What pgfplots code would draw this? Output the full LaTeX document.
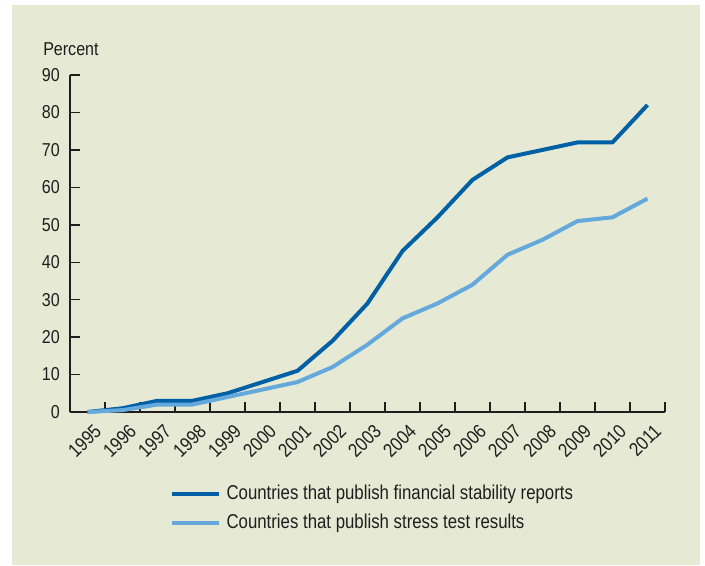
\documentclass[border=0pt]{standalone}
\usepackage{pgfplots}
\pgfplotsset{compat=1.18}
\usepackage{fontspec}
\setmainfont{Liberation Sans}[FakeStretch=0.86]
\newfontfamily\legendfont{Liberation Sans}[FakeStretch=0.84]
\definecolor{bg}{RGB}{230,234,212}
\definecolor{dblue}{RGB}{0,96,166}
\definecolor{lblue}{RGB}{100,168,220}
\definecolor{axc}{RGB}{30,30,30}
\begin{document}
\fontsize{14}{16}\selectfont
\begin{tikzpicture}
\useasboundingbox (-52.5pt,-114.75pt) rectangle (476.25pt,309pt);
\fill[bg] (-43.5pt,-114.75pt) rectangle (472.5pt,305.25pt);
\begin{axis}[
  at={(0pt,0pt)}, anchor=south west,
  scale only axis, width=446.25pt, height=252.75pt,
  xmin=-0.5, xmax=16.5, ymin=0, ymax=90,
  axis x line=bottom, axis y line=left,
  axis line style={-, line width=1.1pt, color=axc},
  ytick={0,10,20,30,40,50,60,70,80,90},
  xtick={-0.5,0.5,1.5,2.5,3.5,4.5,5.5,6.5,7.5,8.5,9.5,10.5,11.5,12.5,13.5,14.5,15.5,16.5},
  x tick label as interval,
  xticklabels={1995,1996,1997,1998,1999,2000,2001,2002,2003,2004,2005,2006,2007,2008,2009,2010,2011},
  tick style={line width=1.1pt, color=axc},
  tick align=inside, major tick length=7.5pt,
  /pgf/number format/assume math mode=true,
  ticklabel style={font=\fontsize{14}{16}\selectfont, text=axc},
  xticklabel style={font=\fontsize{14.5}{16}\selectfont},
  yticklabel style={anchor=east, inner sep=0pt, xshift=-7.5pt},
  xticklabel style={xshift=4pt, yshift=-8pt, rotate=45, anchor=north east, inner sep=0pt},
  clip=false,
  legend style={draw=none, fill=none, inner sep=0pt,
    at={(axis description cs:0.168,-0.2864)}, anchor=west,
    font=\legendfont\fontsize{15}{17}\selectfont, text=axc,
    nodes={inner sep=0pt, text height=10.5pt, text depth=3pt},
    row sep=8.25pt,
    /tikz/every odd column/.append style={column sep=4pt}},
  legend cell align=left,
  legend image code/.code={\draw[#1] (0pt,0pt) -- (35.25pt,0pt);},
]
\addplot[dblue, line width=3pt, line join=round] coordinates {
(0,0) (1,1) (2,3) (3,3) (4,5) (5,8) (6,11) (7,19) (8,29) (9,43) (10,52) (11,62) (12,68) (13,70) (14,72) (15,72) (16,82)};
\addlegendentry{Countries that publish financial stability reports}
\addplot[lblue, line width=3pt, line join=round] coordinates {
(0,0) (1,0.5) (2,2) (3,2) (4,4) (5,6) (6,8) (7,12) (8,18) (9,25) (10,29) (11,34) (12,42) (13,46) (14,51) (15,52) (16,57)};
\addlegendentry{Countries that publish stress test results}
\node[anchor=base west, inner sep=0pt, text=axc] at (rel axis cs:-0.0454,1.0593) {Percent};
\end{axis}
\end{tikzpicture}
\end{document}
